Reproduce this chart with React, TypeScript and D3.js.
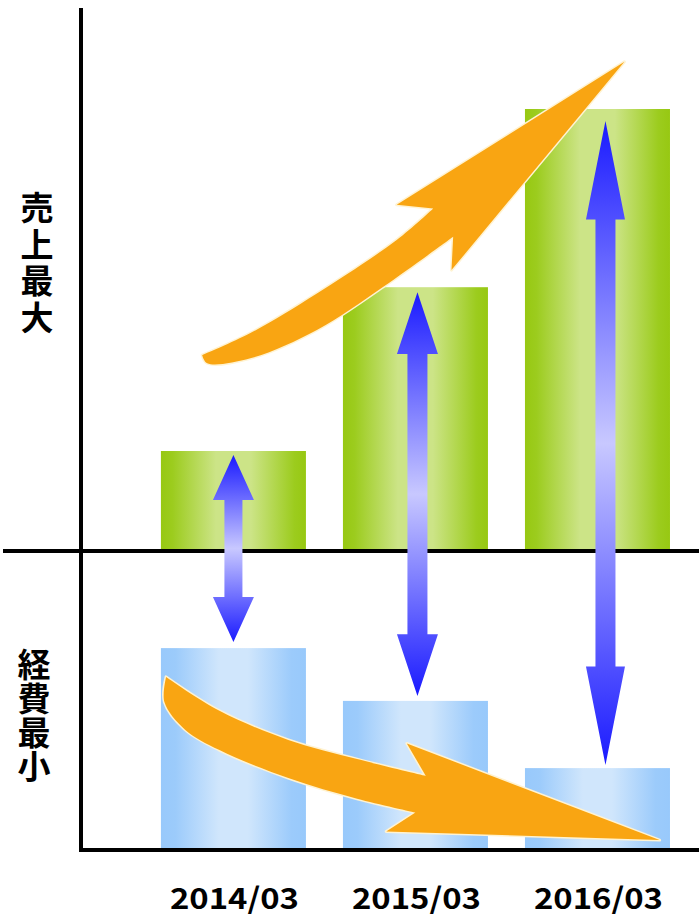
import React from "react";
import * as d3 from "d3";

// ---- data ----
const categories = ["2014/03", "2015/03", "2016/03"];
const sales = [22, 58.4, 98];
const expenses = [67.3, 49.7, 27.3];
const salesLabel = "売上最大";
const expenseLabel = "経費最小";

// orange trend arrows in (u = position between first and last category, value) units
const upArrowUpper: [number, number][] = [
  [-0.0858, 43.3], [0.0466, 48.2], [0.2293, 57.0], [0.4485, 68.9], [0.5488, 75.9],
];
const upArrowHead: [number, number][] = [
  [0.4485, 76.7], [1.074, 108.5], [0.599, 62.2], [0.6036, 69.6],
];
const upArrowLower: [number, number][] = [
  [0.6036, 69.6], [0.4118, 58.5], [0.2293, 48.9], [0.0466, 42.6], [-0.072, 41.5], [-0.0858, 43.3],
];
const downArrowUpper: [number, number][] = [
  [-0.185, 57.7], [-0.0384, 46.4], [0.1507, 36.7], [0.3397, 30.3], [0.5285, 24.7],
];
const downArrowHead: [number, number][] = [
  [0.4764, 35.5], [1.1707, 3.3], [0.4197, 6.2], [0.5, 12.5],
];
const downArrowLower: [number, number][] = [
  [0.5, 12.5], [0.3397, 17.1], [0.1507, 24.0], [-0.0384, 33.3], [-0.1329, 40.1], [-0.1896, 49.3], [-0.185, 57.7],
];

// ---- style ----
const W = 699;
const H = 919;
const arrowShiftX = [0, 2, 8];
const gapTop = [4, 5, 12];
const gapBottom = [6, 5, 3];
const headW = [41, 41, 39];
const shaftW = [18, 20, 20];
const ORANGE = "#f9a512";

export default function App() {
  const x = d3
    .scaleBand<string>()
    .domain(categories)
    .range([80, 699])
    .paddingInner(0.2033)
    .paddingOuter(0.302)
    .align(0.736);
  const bw = x.bandwidth();
  const ySales = d3.scaleLinear().domain([0, 100]).range([550, 100]);
  const yExp = d3.scaleLinear().domain([0, 100]).range([850, 550]);
  const cx = (i: number) => (x(categories[i]) as number) + bw / 2;
  const xu = d3.scaleLinear().domain([0, 1]).range([cx(0), cx(2)]);

  const curve = d3
    .line<[number, number]>()
    .curve(d3.curveCatmullRom.alpha(0.5));

  const buildTrend = (
    upper: [number, number][],
    head: [number, number][],
    lower: [number, number][],
    ys: d3.ScaleLinear<number, number>
  ) => {
    const m = (p: [number, number]): [number, number] => [xu(p[0]), ys(p[1])];
    const a = curve(upper.map(m)) || "";
    const b = head.map(m).map((p) => `L${p[0]},${p[1]}`).join("");
    const c = (curve(lower.map(m)) || "").replace(/^M/, "L");
    return a + b + c + "Z";
  };

  const upPath = buildTrend(upArrowUpper, upArrowHead, upArrowLower, ySales);
  const downPath = buildTrend(downArrowUpper, downArrowHead, downArrowLower, yExp);

  const doubleArrow = (i: number) => {
    const c = cx(i) + arrowShiftX[i];
    const t = ySales(sales[i]) + gapTop[i];
    const b = yExp(expenses[i]) - gapBottom[i];
    const len = b - t;
    const hl = Math.max(45, len * 0.153);
    const hw = headW[i] / 2;
    const sw = shaftW[i] / 2;
    const pts = [
      [c, t], [c + hw, t + hl], [c + sw, t + hl], [c + sw, b - hl], [c + hw, b - hl],
      [c, b], [c - hw, b - hl], [c - sw, b - hl], [c - sw, t + hl], [c - hw, t + hl],
    ];
    return { d: "M" + pts.map((p) => p.join(",")).join("L") + "Z", t, b };
  };

  const vText = {
    fontFamily: "'Noto Sans CJK JP', sans-serif",
    fontWeight: 700,
    fontSize: 33,
    writingMode: "vertical-rl" as const,
  };

  return (
    <svg
      width={W}
      height={H}
      style={{ position: "absolute", left: 0, top: 0, background: "#fff" }}
    >
      <defs>
        <linearGradient id="gGreen" x1="0" x2="1" y1="0" y2="0">
          <stop offset="0" stopColor="#97c812" />
          <stop offset="0.08" stopColor="#9ccc1e" />
          <stop offset="0.38" stopColor="#cce487" />
          <stop offset="0.62" stopColor="#cce487" />
          <stop offset="0.92" stopColor="#9ccc1e" />
          <stop offset="1" stopColor="#97c812" />
        </linearGradient>
        <linearGradient id="gBlue" x1="0" x2="1" y1="0" y2="0">
          <stop offset="0" stopColor="#98c9fb" />
          <stop offset="0.1" stopColor="#9ccbfb" />
          <stop offset="0.4" stopColor="#d0e6fc" />
          <stop offset="0.6" stopColor="#d0e6fc" />
          <stop offset="0.9" stopColor="#9ccbfb" />
          <stop offset="1" stopColor="#98c9fb" />
        </linearGradient>
        {categories.map((c, i) => {
          const a = doubleArrow(i);
          return (
            <linearGradient
              key={c}
              id={`gArrow${i}`}
              gradientUnits="userSpaceOnUse"
              x1="0"
              x2="0"
              y1={a.t}
              y2={a.b}
            >
              <stop offset="0" stopColor="#1a1aff" />
              <stop offset="0.5" stopColor="#c8c8ff" />
              <stop offset="1" stopColor="#1a1aff" />
            </linearGradient>
          );
        })}
      </defs>

      {categories.map((c, i) => (
        <rect
          key={"s" + c}
          x={x(c)}
          y={ySales(sales[i])}
          width={bw}
          height={ySales(0) - ySales(sales[i])}
          fill="url(#gGreen)"
        />
      ))}
      {categories.map((c, i) => (
        <rect
          key={"e" + c}
          x={x(c)}
          y={yExp(expenses[i])}
          width={bw}
          height={yExp(0) - yExp(expenses[i])}
          fill="url(#gBlue)"
        />
      ))}

      {/* axes */}
      <line x1={81} x2={81} y1={8} y2={852} stroke="#000" strokeWidth={4} />
      <line x1={3} x2={699} y1={551} y2={551} stroke="#000" strokeWidth={4} />
      <line x1={79} x2={699} y1={850} y2={850} stroke="#000" strokeWidth={4} />

      {categories.map((c, i) => (
        <path key={"a" + c} d={doubleArrow(i).d} fill={`url(#gArrow${i})`} />
      ))}

      <path d={upPath} fill={ORANGE} stroke="#fff3d2" strokeWidth={3} paintOrder="stroke" strokeLinejoin="round" />
      <path d={downPath} fill={ORANGE} stroke="#fff3d2" strokeWidth={3} paintOrder="stroke" strokeLinejoin="round" />

      <text x={37} y={191} style={{ ...vText, letterSpacing: "3.7px" }}>
        {salesLabel}
      </text>
      <text x={34} y={648} style={{ ...vText, letterSpacing: "1px" }}>
        {expenseLabel}
      </text>

      {categories.map((c, i) => (
        <text
          key={"x" + c}
          x={cx(i) + 1}
          y={909}
          textAnchor="middle"
          fontFamily="'Noto Sans CJK JP', 'DejaVu Sans', sans-serif"
          fontWeight={700}
          fontSize={29}
          textLength={129}
          lengthAdjust="spacingAndGlyphs"
        >
          {c}
        </text>
      ))}
    </svg>
  );
}
